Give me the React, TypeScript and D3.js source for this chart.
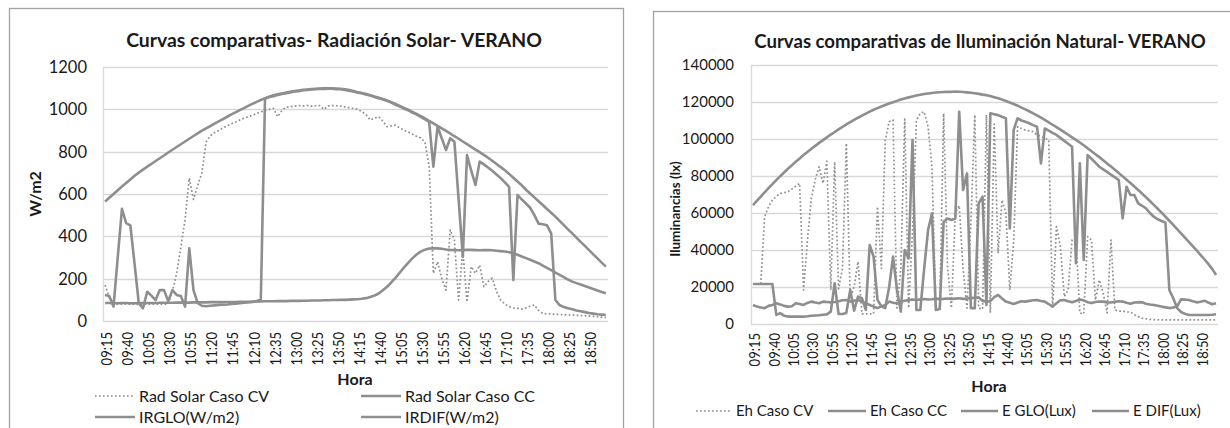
import React from "react";
import * as d3 from "d3";

const categories = [
  "09:15","09:20","09:25","09:30","09:35","09:40","09:45","09:50","09:55","10:00",
  "10:05","10:10","10:15","10:20","10:25","10:30","10:35","10:40","10:45","10:50",
  "10:55","11:00","11:05","11:10","11:15","11:20","11:25","11:30","11:35","11:40",
  "11:45","11:50","11:55","12:00","12:05","12:10","12:15","12:20","12:25","12:30",
  "12:35","12:40","12:45","12:50","12:55","13:00","13:05","13:10","13:15","13:20",
  "13:25","13:30","13:35","13:40","13:45","13:50","13:55","14:00","14:05","14:10",
  "14:15","14:20","14:25","14:30","14:35","14:40","14:45","14:50","14:55","15:00",
  "15:05","15:10","15:15","15:20","15:25","15:30","15:35","15:40","15:45","15:50",
  "15:55","16:00","16:05","16:10","16:15","16:20","16:25","16:30","16:35","16:40",
  "16:45","16:50","16:55","17:00","17:05","17:10","17:15","17:20","17:25","17:30",
  "17:35","17:40","17:45","17:50","17:55","18:00","18:05","18:10","18:15","18:20",
  "18:25","18:30","18:35","18:40","18:45","18:50","18:55","19:00","19:05","19:10"
];

// ---- Left chart: Radiación Solar (W/m2)
const radSolarCV = [
  170,110,80,80,80,80,80,79,79,79,
  80,80,80,80,80,80,140,225,350,480,
  675,575,640,700,845,875,890,900,912,922,
  932,940,950,958,965,972,980,988,995,1000,
  1005,965,995,1010,1012,1015,1018,1016,1018,1015,
  1017,1018,1000,1016,1018,1017,1015,1012,1008,1004,
  1000,990,975,950,958,965,945,918,922,925,
  912,902,893,883,873,865,845,730,225,280,
  200,146,430,383,99,335,90,257,225,264,
  162,186,202,140,99,80,68,62,60,57,
  62,70,76,50,36,34,33,32,31,30,
  29,28,27,26,25,24,22,20,18,16
];
const radSolarCC = [
  123,118,68,300,530,462,452,270,84,60,
  138,120,99,146,146,94,146,123,118,68,
  343,146,84,72,70,72,74,76,77,78,
  80,82,84,86,88,90,94,100,1050,1058,
  1062,1068,1073,1076,1080,1084,1086,1090,1091,1094,
  1095,1097,1096,1098,1097,1095,1095,1092,1088,1084,
  1079,1076,1070,1066,1058,1053,1046,1040,1032,1022,
  1014,1004,996,985,976,964,953,940,729,918,
  863,808,863,847,575,304,784,710,643,753,
  740,725,710,692,675,655,634,194,595,575,
  555,535,500,460,457,452,414,99,75,66,
  60,55,50,46,42,38,35,32,30,28
];
const irglo = [
  564,582,600,618,635,652,669,686,701,715,
  729,742,756,769,782,796,809,822,835,848,
  861,874,886,899,910,921,932,943,954,965,
  976,986,996,1006,1016,1026,1035,1044,1053,1060,
  1066,1071,1075,1079,1083,1086,1089,1092,1094,1096,
  1097,1098,1099,1099,1099,1098,1097,1095,1091,1086,
  1081,1077,1072,1067,1061,1055,1049,1042,1034,1025,
  1016,1007,998,988,978,968,957,946,934,922,
  910,898,886,873,861,848,836,823,810,798,
  785,771,757,742,727,712,695,677,659,641,
  620,602,584,566,548,529,511,493,473,453,
  433,414,394,374,355,335,315,296,276,257
];
const irdif = [
  85,85,84,84,85,85,84,84,85,85,
  85,85,85,86,86,86,86,87,87,87,
  87,88,88,88,88,89,89,89,89,90,
  90,90,91,91,91,92,92,92,93,93,
  93,94,94,94,95,95,95,96,96,97,
  97,97,98,98,99,99,100,100,101,102,
  103,105,108,113,120,130,145,162,182,204,
  228,252,275,296,314,328,337,342,344,343,
  341,338,336,335,334,335,336,336,335,334,
  335,335,334,332,330,328,325,320,313,305,
  297,289,281,273,262,251,240,229,218,207,
  196,186,179,172,165,158,151,144,137,131
];
const leftTicks = [0, 200, 400, 600, 800, 1000, 1200];

// ---- Right chart: Iluminación Natural (lx)
const ehCV = [
  21600,21600,21600,58000,63400,67000,69000,70600,71000,71500,
  73000,74500,76000,18400,45000,68000,78000,85000,76000,88000,
  18400,87700,19000,30000,97700,14000,20000,33700,5400,5500,
  5400,5600,63400,30000,99500,109400,110300,8600,30000,110700,
  8600,50000,110000,113900,114700,106600,85000,8000,8600,113900,
  31000,8600,60000,64000,30000,8600,55000,113000,8600,8000,
  113000,6000,108000,38200,67000,60000,18400,45000,106600,105700,
  104800,104400,104000,102200,101500,100500,99500,8600,52600,41800,
  14800,18400,45400,46000,6000,5400,47200,45400,13000,23800,
  16600,6000,45400,7600,7000,7000,6500,6500,5000,4000,
  3100,2800,2500,2400,2300,2200,2200,2200,2200,2200,
  2200,2200,2200,2200,2200,2200,2200,2200,2200,2200
];
const ehCC = [
  21600,21600,21600,21600,21600,21600,4900,5900,4500,4000,
  4000,4000,4000,4000,4200,4500,4600,4700,5000,5200,
  6700,22000,5400,5400,6000,18400,7200,14800,13900,7600,
  42700,36400,13000,9500,8600,20000,36400,18400,6700,40000,
  35500,99500,7600,7600,30000,50800,59800,7600,8100,55300,
  57000,56200,57000,114700,72400,81400,8600,8600,65200,68800,
  10300,113900,113400,112900,112000,111200,51700,104900,111200,110000,
  109300,108500,107500,106600,86800,105700,104500,103300,102200,100600,
  99000,97400,95800,32800,86800,34600,91300,89300,87200,85000,
  83600,82200,80700,79300,77800,57100,74200,69700,69700,65200,
  63900,62500,60000,58000,56600,55700,54800,18400,13900,8600,
  6500,5500,4900,4900,4900,4900,4900,4900,5000,5300
];
const eGlo = [
  64300,66600,68900,71200,73400,75600,77800,79900,81900,83900,
  85800,87700,89500,91300,93000,94700,96300,97900,99400,100900,
  102400,103800,105200,106500,107900,109100,110300,111500,112600,113700,
  114800,115800,116700,117600,118400,119200,119900,120600,121300,121900,
  122500,123000,123500,123900,124300,124600,124900,125100,125300,125400,
  125500,125500,125600,125500,125400,125200,125000,124700,124400,124000,
  123700,123200,122600,122000,121300,120500,119700,118900,118000,117000,
  116000,115000,113900,112800,111600,110300,109000,107700,106400,105100,
  103700,102300,100900,99500,98100,96600,95000,93400,91800,90200,
  88500,86800,85100,83400,81600,79800,78000,76200,74300,72400,
  70500,68500,66500,64400,62300,60200,58000,55800,53600,51300,
  49000,46700,44400,42100,39800,37400,35000,32500,29800,26500
];
const eDif = [
  10300,9400,8900,8600,9800,10300,11200,10600,9800,9400,
  9600,11200,10800,10300,11400,12100,11600,11200,12100,11900,
  11700,11900,12300,12800,13000,12100,12600,13000,12000,11200,
  10300,9400,8600,9500,10300,12100,11500,11200,12000,12600,
  12900,13200,13000,13300,13500,13200,13400,13700,13500,13600,
  13800,13500,13700,13900,13600,13800,14000,14200,14400,12500,
  12100,12400,14500,15700,13800,12100,11500,10800,11600,12300,
  12100,12500,12800,13000,12400,12100,10800,9400,11200,12800,
  13000,12300,11700,12400,13300,12800,11800,11300,11900,12200,
  12100,11700,11600,12000,12300,12100,11500,11000,11600,11800,
  11700,11000,10500,10300,9900,9400,9000,8600,8900,9600,
  13300,13200,13000,12300,11700,12000,12600,11600,10700,11200
];
const rightTicks = [0, 20000, 40000, 60000, 80000, 100000, 120000, 140000];

const FONT = "Lato, 'Open Sans', 'DejaVu Sans', sans-serif";
const LINE = "#8e8e8e";
const GRID = "#d9d9d9";
const TEXT = "#1a1a1a";

type Series = { values: number[]; dotted?: boolean };

function Plot(props: {
  left: number; right: number; top: number; bottom: number;
  max: number; ticks: number[]; series: Series[];
  tickFont: number; xFont: number; tickGap: number; xLabelGap: number;
}) {
  const { left, right, top, bottom, max, ticks, series, tickFont, xFont, tickGap, xLabelGap } = props;
  const x = d3.scaleBand<string>().domain(categories).range([left, right]).padding(0);
  const y = d3.scaleLinear().domain([0, max]).range([bottom, top]);
  const cx = (i: number) => (x(categories[i]) as number) + x.bandwidth() / 2;
  const line = d3.line<number>().x((_, i) => cx(i)).y((d) => y(d));
  return (
    <g>
      {ticks.map((t) => (
        <line key={"g" + t} x1={left} x2={right} y1={Math.round(y(t)) + 0.5} y2={Math.round(y(t)) + 0.5}
          stroke={GRID} strokeWidth={1.3} />
      ))}
      <line x1={left + 0.5} x2={left + 0.5} y1={top} y2={bottom} stroke={GRID} strokeWidth={1.3} />
      {ticks.map((t) => (
        <text key={"t" + t} x={left - tickGap} y={y(t)} dy="0.36em" textAnchor="end"
          fontSize={tickFont} fill={TEXT} fontFamily={FONT}>{t}</text>
      ))}
      {categories.map((c, i) =>
        i % 5 === 0 ? (
          <text key={"x" + c} transform={`translate(${cx(i) + 1.5},${bottom + xLabelGap}) rotate(-90) scale(1,1.2)`}
            textAnchor="end" dy="0.36em" fontSize={xFont} fill={TEXT} fontFamily={FONT}>{c}</text>
        ) : null
      )}
      {series.map((s, k) => (
        <path key={"s" + k} d={line(s.values) || ""} fill="none" stroke={LINE}
          strokeWidth={s.dotted ? 1.7 : 2.6} strokeDasharray={s.dotted ? "1.7 2.3" : undefined}
          strokeLinejoin="round" />
      ))}
    </g>
  );
}

function LegendItem(props: { x: number; y: number; len: number; label: string; dotted?: boolean; size: number }) {
  const { x, y, len, label, dotted, size } = props;
  return (
    <g>
      <line x1={x} x2={x + len} y1={y} y2={y} stroke={LINE} strokeWidth={dotted ? 1.7 : 2.6}
        strokeDasharray={dotted ? "1.7 2.3" : undefined} />
      <text x={x + len + 4} y={y} dy="0.36em" fontSize={size} fill={TEXT} fontFamily={FONT}>{label}</text>
    </g>
  );
}

export default function App() {
  return (
    <svg width={1230} height={428} style={{ position: "absolute", left: 0, top: 0, background: "#fff" }}>
      <rect x={0} y={0} width={1230} height={428} fill="#fff" />
      {/* frames */}
      <rect x={9.5} y={8.5} width={614} height={440} fill="none" stroke="#a3a3a3" strokeWidth={1.3} />
      <rect x={653.5} y={11.5} width={600} height={440} fill="none" stroke="#a3a3a3" strokeWidth={1.3} />

      {/* Left chart */}
      <text x={334} y={47} textAnchor="middle" fontSize={19.4} fontWeight="bold" fill={TEXT} fontFamily={FONT}>
        Curvas comparativas- Radiación Solar- VERANO
      </text>
      <Plot left={103} right={608} top={67} bottom={321} max={1200} ticks={leftTicks}
        tickFont={16.5} xFont={13} tickGap={16} xLabelGap={11}
        series={[
          { values: irdif },
          { values: irglo },
          { values: radSolarCC },
          { values: radSolarCV, dotted: true },
        ]} />
      <text transform="translate(41,194) rotate(-90)" textAnchor="middle" fontSize={16} fontWeight="bold"
        fill={TEXT} fontFamily={FONT}>W/m2</text>
      <text x={355} y={385} textAnchor="middle" fontSize={16} fontWeight="bold" fill={TEXT} fontFamily={FONT}>Hora</text>
      <LegendItem x={95} y={396} len={40} label="Rad Solar Caso CV" dotted size={16} />
      <LegendItem x={361} y={396} len={40} label="Rad Solar Caso CC" size={16} />
      <LegendItem x={95} y={417} len={40} label="IRGLO(W/m2)" size={16} />
      <LegendItem x={361} y={417} len={40} label="IRDIF(W/m2)" size={16} />

      {/* Right chart */}
      <text x={980} y={48} textAnchor="middle" fontSize={18.6} fontWeight="bold" fill={TEXT} fontFamily={FONT}>
        Curvas comparativas de Iluminación Natural- VERANO
      </text>
      <Plot left={751} right={1218} top={65} bottom={324} max={140000} ticks={rightTicks}
        tickFont={15} xFont={13} tickGap={17} xLabelGap={9}
        series={[
          { values: eDif },
          { values: eGlo },
          { values: ehCC },
          { values: ehCV, dotted: true },
        ]} />
      <text transform="translate(680,209) rotate(-90)" textAnchor="middle" fontSize={13.5} fontWeight="bold"
        fill={TEXT} fontFamily={FONT}>Iluminancias (lx)</text>
      <text x={989} y={392} textAnchor="middle" fontSize={16} fontWeight="bold" fill={TEXT} fontFamily={FONT}>Hora</text>
      <LegendItem x={696} y={411} len={36} label="Eh Caso CV" dotted size={15} />
      <LegendItem x={828} y={411} len={38} label="Eh Caso CC" size={15} />
      <LegendItem x={961} y={411} len={37} label="E GLO(Lux)" size={15} />
      <LegendItem x={1092} y={411} len={37} label="E DIF(Lux)" size={15} />
    </svg>
  );
}
